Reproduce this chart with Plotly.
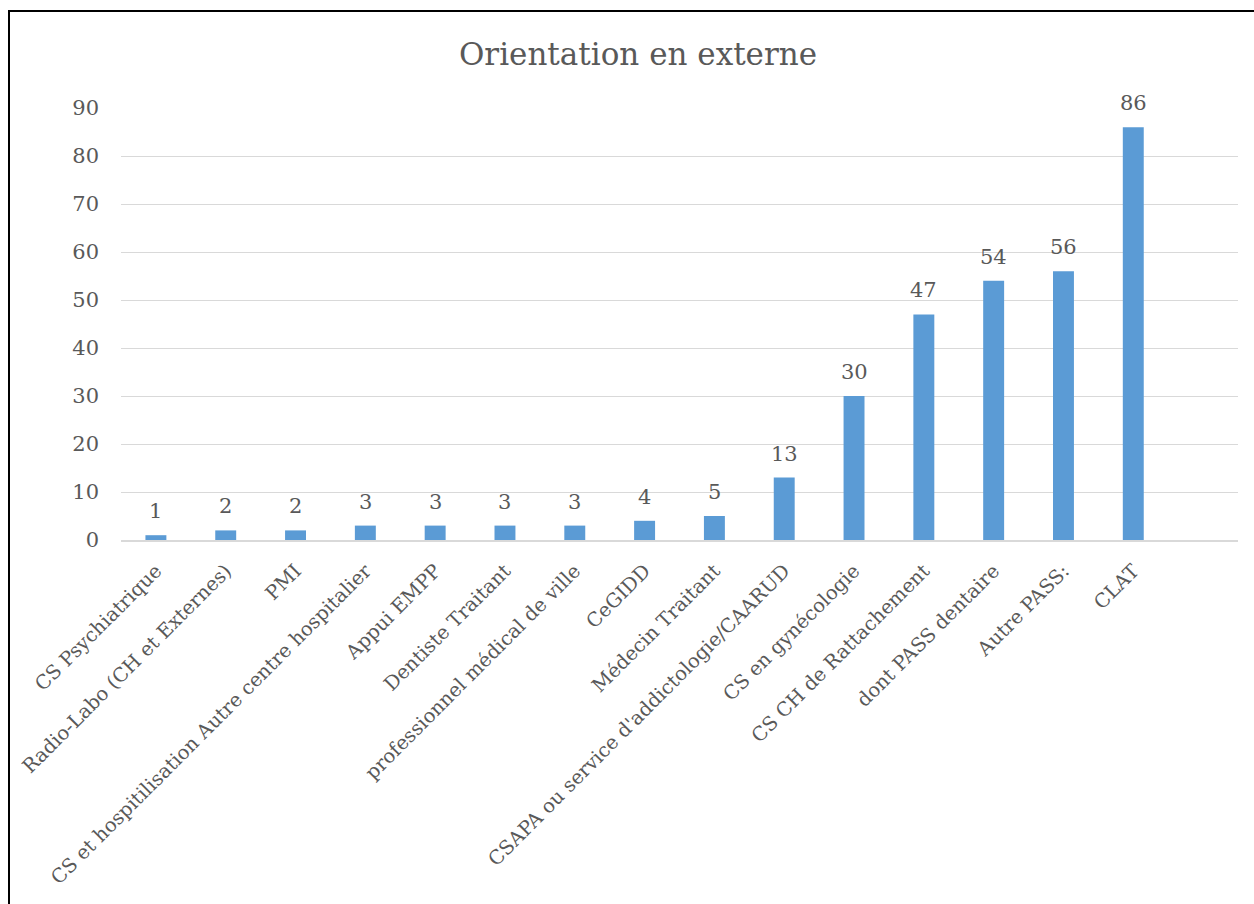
import plotly.graph_objects as go

categories = [
    "CS Psychiatrique",
    "Radio-Labo (CH et Externes)",
    "PMI",
    "CS et hospitilisation Autre centre hospitalier",
    "Appui EMPP",
    "Dentiste Traitant",
    "professionnel médical de ville",
    "CeGIDD",
    "Médecin Traitant",
    "CSAPA ou service d'addictologie/CAARUD",
    "CS en gynécologie",
    "CS CH de Rattachement",
    "dont PASS dentaire",
    "Autre PASS:",
    "CLAT",
]
values = [1, 2, 2, 3, 3, 3, 3, 4, 5, 13, 30, 47, 54, 56, 86]
y_ticks = [0, 10, 20, 30, 40, 50, 60, 70, 80, 90]

FONT = "DejaVu Serif"
GREY = "#595959"
positions = list(range(len(categories)))

fig = go.Figure()
fig.add_trace(go.Bar(
    x=positions, y=values, width=0.3,
    marker=dict(color="#5B9BD5", line=dict(width=0)),
    hoverinfo="x+y",
))

for p, v in zip(positions, values):
    fig.add_annotation(x=p, y=v, text=str(v), showarrow=False,
                       yanchor="bottom", yshift=10,
                       font=dict(family=FONT, size=21, color=GREY))

W, H = 1254, 904
L, R, T, B = 121, 16, 108, 364
pw, ph = W - L - R, H - T - B

def px(x):
    return (x - L) / pw

def py(y):
    return (H - B - y) / ph

fig.add_shape(type="rect", xref="paper", yref="paper",
              x0=px(9), x1=px(1262), y0=py(912), y1=py(11),
              line=dict(color="black", width=2), fillcolor="rgba(0,0,0,0)", layer="below")

fig.update_layout(
    width=W, height=H,
    margin=dict(l=L, r=R, t=T, b=B, pad=0),
    paper_bgcolor="white", plot_bgcolor="white",
    showlegend=False,
    title=dict(text="Orientation en externe", x=638 / W, xref="container", xanchor="center",
               y=1 - 54 / H, yanchor="middle", yref="container",
               font=dict(family=FONT, size=31, color=GREY)),
    font=dict(family=FONT, color=GREY),
    bargap=0.7,
)
fig.update_xaxes(
    range=[-0.5, 15.5], tickvals=positions, ticktext=categories, tickangle=-45,
    tickfont=dict(family=FONT, size=19.5, color=GREY), ticklabelstandoff=10,
    showgrid=False, showline=True, linecolor="#D9D9D9", linewidth=1.5,
    ticks="", zeroline=False, fixedrange=True,
)
fig.update_yaxes(
    range=[0, 90], tickvals=y_ticks, showgrid=True, gridcolor="#D9D9D9", gridwidth=1,
    tickfont=dict(family=FONT, size=21, color=GREY), ticks="", ticklabelstandoff=21,
    showline=False, zeroline=False, fixedrange=True,
)

fig.write_html("out.html")
